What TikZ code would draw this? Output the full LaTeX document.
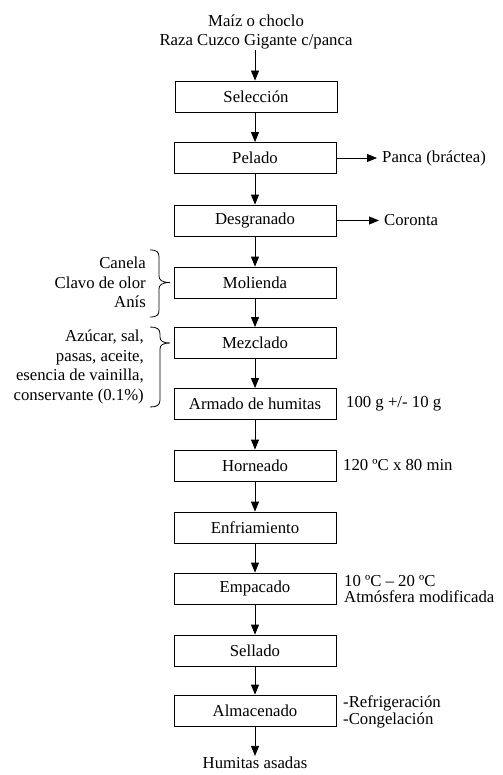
\documentclass[tikz,border=0pt]{standalone}
\usepackage{fontspec}
\setmainfont{Liberation Serif}
\usetikzlibrary{arrows.meta}
\begin{document}
\begin{tikzpicture}[x=1bp,y=-1bp,
  font=\fontsize{16.8}{19.5}\selectfont,
  proc/.style={draw,line width=0.8pt,minimum width=162bp,minimum height=31bp,inner sep=0pt},
  arr/.style={line width=0.8pt,-{Triangle[length=10bp,width=8bp]}},
  note/.style={inner sep=0pt,align=left,anchor=west},
  tight/.style={font=\fontsize{16.8}{16.8}\selectfont},
  side/.style={anchor=west,inner xsep=5bp,inner ysep=1bp},
  brc/.style={line width=0.8pt}]
\useasboundingbox (0,0) rectangle (503,775);
\node[inner sep=1pt,align=center,font=\fontsize{16.8}{18.5}\selectfont] (src) at (256,32) {Maíz o choclo\\Raza Cuzco Gigante c/panca};
\node[proc] (sel) at (256,96.5) {Selección};
\node[proc] (pel) at (255,158) {Pelado};
\node[proc] (des) at (255,220.5) {Desgranado};
\node[proc] (mol) at (255,282.5) {Molienda};
\node[proc] (mez) at (255,343) {Mezclado};
\node[proc] (arm) at (255,404) {Armado de humitas};
\node[proc] (hor) at (255,465.5) {Horneado};
\node[proc] (enf) at (255,527.5) {Enfriamiento};
\node[proc] (emp) at (255,588.5) {Empacado};
\node[proc] (sell) at (255,650.5) {Sellado};
\node[proc] (alm) at (255,710.5) {Almacenado};
\node[inner sep=1pt] (hum) at (255,763) {Humitas asadas};
\draw[arr] (src.south -| pel) -- (sel.north -| pel);
\draw[arr] (sel.south -| pel) -- (pel);
\draw[arr] (pel) -- (des);
\draw[arr] (des) -- (mol);
\draw[arr] (mol) -- (mez);
\draw[arr] (mez) -- (arm);
\draw[arr] (arm) -- (hor);
\draw[arr] (hor) -- (enf);
\draw[arr] (enf) -- (emp);
\draw[arr] (emp) -- (sell);
\draw[arr] (sell) -- (alm);
\draw[arr] (alm) -- (hum);
\node[side] (panca) at (377,158) {Panca (bráctea)};
\node[side] (cor) at (379,220.5) {Coronta};
\draw[arr] (pel) -- (panca);
\draw[arr] (des) -- (cor);
\node[inner sep=0pt,align=right,anchor=east] (esp) at (146,282.5) {Canela\\Clavo de olor\\Anís};
\node[inner sep=0pt,align=right,anchor=east] (ing) at (144,367) {Azúcar, sal,\\pasas, aceite,\\esencia de vainilla,\\conservante (0.1\%)};
\draw[brc] (150,250) .. controls (157,250) and (159,252) .. (159,257) -- (159,276)
  .. controls (159,280) and (162,282.5) .. (170,282.5)
  .. controls (162,282.5) and (159,285) .. (159,289) -- (159,310)
  .. controls (159,315) and (157,317) .. (150,317);
\draw[brc] (150,327) .. controls (157,327) and (160,329) .. (160,334) -- (160,337)
  .. controls (160,341) and (163,343) .. (170,343)
  .. controls (163,343) and (160,345) .. (160,349) -- (160,400)
  .. controls (160,405) and (157,407) .. (150,407);
\node[note] (peso) at (346,404) {100 g +/- 10 g};
\node[note] (temp) at (343,465.5) {120 ºC x 80 min};
\node[note,tight] (cond) at (344,589) {10 ºC – 20 ºC\\Atmósfera modificada};
\node[note,tight] (alm2) at (343,712) {-Refrigeración\\-Congelación};
\end{tikzpicture}
\end{document}
